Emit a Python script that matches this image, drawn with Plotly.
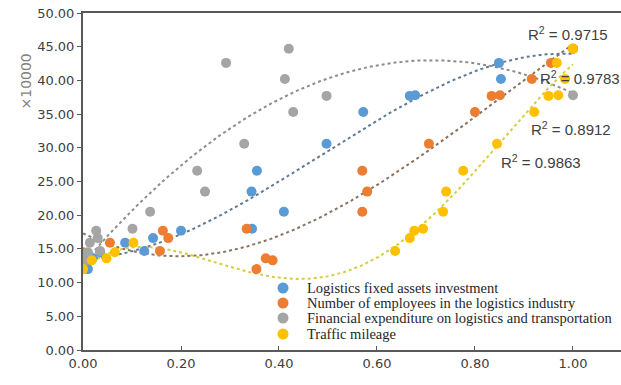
import numpy as np
import plotly.graph_objects as go

# Shared dependent values (x10000)
y_vals = [12.0, 13.3, 13.6, 14.5, 14.7, 15.9, 16.6, 17.7, 18.0, 20.5, 23.5, 26.6,
          30.6, 35.3, 37.7, 37.8, 40.2, 42.6, 44.7]

series_names = [
    "Logistics fixed assets investment",
    "Number of employees in the logistics industry",
    "Financial expenditure on logistics and transportation",
    "Traffic mileage",
]

x_invest = [0.01, 0.00, 0.02, 0.035, 0.125, 0.086, 0.143, 0.20, 0.345, 0.41, 0.344, 0.355,
            0.497, 0.572, 0.667, 0.678, 0.853, 0.849, 1.00]
x_employees = [0.354, 0.387, 0.373, 0.00, 0.157, 0.055, 0.174, 0.163, 0.334, 0.57, 0.58, 0.57,
               0.706, 0.80, 0.834, 0.851, 0.916, 0.955, 1.00]
x_finance = [0.00, 0.005, 0.008, 0.01, 0.035, 0.014, 0.03, 0.027, 0.101, 0.137, 0.249, 0.233,
             0.329, 0.429, 0.497, 1.00, 0.412, 0.292, 0.42]
x_mileage = [0.00, 0.018, 0.048, 0.065, 0.637, 0.103, 0.667, 0.676, 0.694, 0.735, 0.741, 0.776,
             0.845, 0.921, 0.95, 0.97, 0.984, 0.967, 1.00]

# polynomial trendline order per series
trend_orders = [3, 3, 2, 4]

r2_labels = ["0.9715", "0.9783", "0.8912", "0.9863"]

marker_colors = ["#5B9BD5", "#ED7D31", "#A5A5A5", "#FFC000"]
trend_colors = ["#5f7a96", "#8a7260", "#8c8c8c", "#d6cc3c"]

xs_all = [x_invest, x_employees, x_finance, x_mileage]

fig = go.Figure()

# polynomial trendlines
for xs, tc, order in zip(xs_all, trend_colors, trend_orders):
    xx = np.linspace(min(xs), max(xs), 200)
    coef = np.polyfit(xs, y_vals, order)
    fig.add_trace(go.Scatter(x=xx, y=np.polyval(coef, xx), mode="lines",
                             line=dict(color=tc, width=2, dash="dot"),
                             showlegend=False, hoverinfo="skip"))

for xs, name, mc in zip(xs_all, series_names, marker_colors):
    fig.add_trace(go.Scatter(x=xs, y=y_vals, mode="markers", name=name,
                             marker=dict(color=mc, size=10, line=dict(width=0)),
                             showlegend=False))

# manual legend (tight row spacing as in the reference)
leg_x_px = 283
leg_rows_px = [288, 303, 318, 334]
for name, mc, py in zip(series_names, marker_colors, leg_rows_px):
    xp = (leg_x_px - 83) / 538
    yp = (350 - py) / 337
    fig.add_shape(type="circle", xref="paper", yref="paper",
                  xsizemode="pixel", ysizemode="pixel", xanchor=xp, yanchor=yp,
                  x0=-5.5, x1=5.5, y0=-5.5, y1=5.5,
                  fillcolor=mc, line=dict(width=0))
    fig.add_annotation(xref="paper", yref="paper", x=(305 - 83) / 538, y=yp,
                       xanchor="left", yanchor="middle", text=name, showarrow=False,
                       font=dict(family="Liberation Serif", size=14.5, color="#262626"))

# R^2 labels
r2_pos = [(0.99, 47.0), (1.014, 40.5), (0.996, 32.9), (0.935, 27.9)]
for (px, py), lab in zip(r2_pos, r2_labels):
    fig.add_annotation(x=px, y=py, text="R<sup>2</sup> = " + lab, showarrow=False,
                       font=dict(family="Liberation Sans", size=15, color="#404040"))

fig.add_annotation(xref="paper", yref="paper", x=-0.125, y=0.885, text="×10000",
                   textangle=-90, showarrow=False,
                   font=dict(family="DejaVu Sans", size=14, color="#7f7f7f"))

fig.update_layout(
    width=621, height=385,
    margin=dict(l=83, r=0, t=13, b=35),
    paper_bgcolor="white", plot_bgcolor="white",
    showlegend=False,
    xaxis=dict(range=[0, 1.098], dtick=0.2, tick0=0, tickformat=".2f",
               showgrid=False, zeroline=False, showline=True, linecolor="#595959",
               linewidth=2, mirror=True, ticks="inside", ticklen=4, tickcolor="#595959",
               tickfont=dict(family="DejaVu Sans", size=13, color="#404040")),
    yaxis=dict(range=[0, 50], dtick=5, tickformat=".2f",
               showgrid=False, zeroline=False, showline=True, linecolor="#595959",
               linewidth=2, ticks="outside", ticklen=4, tickcolor="#595959",
               tickfont=dict(family="DejaVu Sans", size=13, color="#404040")),
)

fig.write_html("out.html")
